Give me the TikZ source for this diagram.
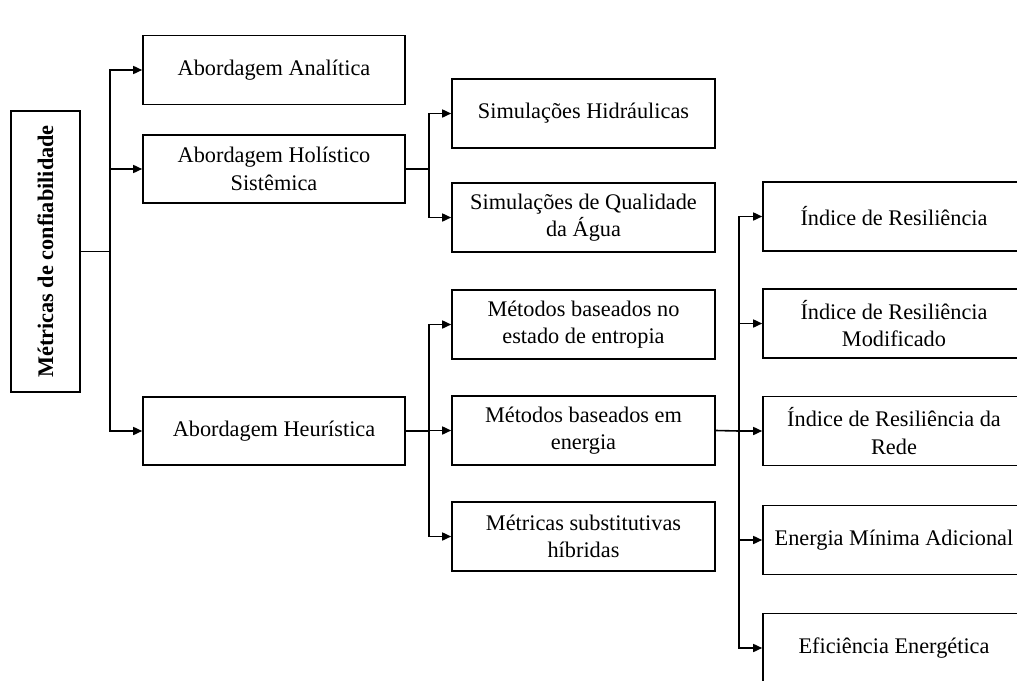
\documentclass[tikz,border=0pt]{standalone}
\usepackage{fontspec}
\setmainfont{Liberation Serif}
\usetikzlibrary{arrows.meta}
\begin{document}
\begin{tikzpicture}[x=1pt,y=-1pt,
  box/.style={draw, line width=1.6pt, align=center, inner sep=0pt,
    minimum width=262pt, minimum height=69pt,
    font=\fontsize{22.3}{27.5}\selectfont},
  link/.style={line width=1.6pt},
  arrow/.style={line width=1.6pt, -{Triangle[length=9pt,width=8pt]}}]
\useasboundingbox (0,0) rectangle (1017,680);
\clip (0,0) rectangle (1017,680);

% root
\node[draw, line width=1.6pt, minimum width=69pt, minimum height=281pt, inner sep=0pt] (root) at (45.5,251.5) {};
\node[rotate=90, font=\fontsize{22.3}{27.5}\selectfont\bfseries] (rootlabel) at (root.center) {Métricas de confiabilidade};

% first level
\node[box] (ana) at (274,70) {Abordagem Analítica};
\node[box, minimum height=68pt] (hol) at (274,169) {Abordagem Holístico\\Sistêmica};
\node[box, minimum height=68pt] (heu) at (274,431) {Abordagem Heurística};

% second level
\node[box, minimum width=263pt] (hid) at (583.5,113.5) {Simulações Hidráulicas};
\node[box, minimum width=263pt] (qua) at (583.5,217.5) {Simulações de Qualidade\\da Água};
\node[box, minimum width=263pt] (ent) at (583.5,324.5) {Métodos baseados no\\estado de entropia};
\node[box, minimum width=263pt] (ene) at (583.5,430.5) {Métodos baseados em\\energia};
\node[box, minimum width=263pt] (hib) at (583.5,536.5) {Métricas substitutivas\\híbridas};

% third level
\node[box] (ir) at (894,216.5) {Índice de Resiliência};
\node[box] (irm) at (894,323.5) {Índice de Resiliência\\Modificado};
\node[box] (irr) at (894,431) {Índice de Resiliência da\\Rede};
\node[box] (ema) at (894,540) {Energia Mínima Adicional};
\node[box] (ee) at (894,648) {Eficiência Energética};

% connectors
\coordinate (j0) at (110,251.5);
\draw[link] (root.east) -- (j0);
\draw[arrow] (j0) |- (ana.west);
\draw[arrow] (j0) |- (hol.west);
\draw[arrow] (j0) |- (heu.west);

\coordinate (j1) at (429,169);
\draw[link] (hol.east) -- (j1);
\draw[arrow] (j1) |- (hid.west);
\draw[arrow] (j1) |- (qua.west);

\coordinate (j2) at (429,431);
\draw[link] (heu.east) -- (j2);
\draw[arrow] (j2) |- (ent.west);
\draw[arrow] (j2) |- (ene.west);
\draw[arrow] (j2) |- (hib.west);

\coordinate (j3) at (739,431);
\draw[link] (ene.east) -- (j3);
\draw[arrow] (j3) |- (ir.west);
\draw[arrow] (j3) |- (irm.west);
\draw[arrow] (j3) |- (irr.west);
\draw[arrow] (j3) |- (ema.west);
\draw[arrow] (j3) |- (ee.west);
\end{tikzpicture}
\end{document}
